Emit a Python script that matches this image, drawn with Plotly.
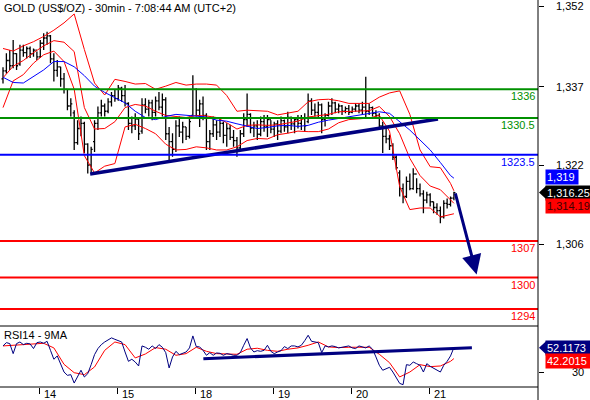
import plotly.graph_objects as go

# ---------------- data (hourly bars, index 0..133) ----------------
bar = list(range(134))
open_ = [1338.0, 1339.5, 1341.5, 1340.5, 1342.8, 1340.8, 1343.5, 1343.0, 1343.8, 1342.8,
         1343.5, 1342.2, 1344.8, 1345.8, 1346.2, 1341.8, 1339.6, 1340.3, 1338.0, 1336.0,
         1332.8, 1331.5, 1325.8, 1328.5, 1329.5, 1325.5, 1321.5, 1326.0, 1329.5, 1331.5,
         1332.8, 1331.8, 1333.6, 1334.8, 1334.2, 1336.2, 1334.8, 1333.3, 1329.5, 1329.0,
         1330.3, 1328.0, 1333.0, 1332.2, 1333.4, 1331.6, 1333.8, 1332.6, 1334.0, 1327.5,
         1326.0, 1324.5, 1329.0, 1327.8, 1328.8, 1327.0, 1331.0, 1336.0, 1332.0, 1333.2,
         1331.0, 1326.0, 1327.5, 1329.2, 1327.8, 1329.5, 1327.2, 1328.5, 1326.8, 1326.2,
         1324.8, 1327.5, 1330.2, 1331.2, 1328.6, 1329.0, 1327.4, 1329.8, 1328.8, 1330.2,
         1328.4, 1329.4, 1328.0, 1330.0, 1328.8, 1330.6, 1329.4, 1330.2, 1329.5, 1330.5,
         1329.8, 1333.8, 1332.0, 1331.6, 1333.0, 1330.2, 1331.0, 1332.8, 1333.4, 1332.2,
         1332.8, 1331.8, 1332.3, 1331.6, 1332.2, 1332.8, 1332.0, 1332.6, 1331.8, 1332.5,
         1331.4, 1331.0, 1329.0, 1327.0, 1326.5, 1325.2, 1323.0, 1320.0, 1317.0, 1315.5,
         1318.4, 1317.0, 1319.8, 1317.0, 1316.0, 1314.8, 1315.8, 1314.5, 1313.4, 1312.8,
         1311.6, 1314.2, 1314.0, 1315.2]
high = [1340.2, 1342.9, 1343.5, 1345.4, 1342.9, 1344.5, 1344.5, 1344.2, 1344.2, 1343.8,
        1343.2, 1345.4, 1346.7, 1347.0, 1346.4, 1342.9, 1341.6, 1340.3, 1339.1, 1335.9,
        1334.3, 1332.0, 1330.1, 1330.8, 1329.8, 1325.7, 1325.0, 1330.1, 1332.7, 1334.0,
        1333.3, 1334.3, 1335.5, 1335.9, 1336.8, 1336.5, 1336.8, 1333.5, 1330.8, 1331.4,
        1330.4, 1334.3, 1334.3, 1334.0, 1334.0, 1334.6, 1335.5, 1335.2, 1334.5, 1328.8,
        1327.6, 1330.1, 1330.8, 1329.8, 1328.8, 1330.8, 1338.7, 1336.2, 1334.0, 1334.6,
        1331.4, 1328.2, 1330.8, 1330.1, 1330.4, 1329.8, 1329.5, 1329.2, 1328.2, 1326.9,
        1328.2, 1331.4, 1335.2, 1331.4, 1329.8, 1330.1, 1330.8, 1331.1, 1331.1, 1330.1,
        1329.8, 1330.1, 1330.8, 1330.2, 1331.7, 1330.8, 1330.4, 1331.1, 1331.1, 1331.4,
        1335.2, 1334.3, 1333.3, 1333.6, 1333.3, 1331.4, 1333.6, 1334.3, 1333.6, 1333.3,
        1333.0, 1332.7, 1333.0, 1332.7, 1333.3, 1333.3, 1333.6, 1338.4, 1333.3, 1332.7,
        1332.0, 1331.4, 1329.8, 1328.9, 1327.3, 1325.7, 1323.4, 1320.5, 1318.0, 1319.3,
        1319.9, 1320.9, 1319.0, 1318.0, 1316.7, 1316.4, 1316.1, 1314.5, 1314.2, 1313.6,
        1314.8, 1315.1, 1315.5, 1316.4]
low = [1337.1, 1339.0, 1339.7, 1340.0, 1339.7, 1340.5, 1342.2, 1341.9, 1342.0, 1342.2,
       1341.6, 1342.0, 1343.5, 1344.5, 1341.0, 1337.5, 1338.4, 1336.5, 1335.2, 1332.0,
       1330.8, 1324.4, 1325.4, 1327.0, 1323.8, 1319.9, 1320.2, 1324.0, 1328.2, 1330.8,
       1330.8, 1331.4, 1332.7, 1333.6, 1333.8, 1333.6, 1332.7, 1328.2, 1327.6, 1328.2,
       1326.3, 1327.5, 1331.4, 1330.8, 1330.1, 1330.8, 1332.0, 1330.8, 1326.3, 1322.5,
       1323.1, 1324.0, 1326.9, 1325.7, 1326.3, 1326.6, 1330.8, 1330.8, 1328.8, 1330.1,
       1324.4, 1324.4, 1326.9, 1326.3, 1326.9, 1325.7, 1325.0, 1326.3, 1325.0, 1323.1,
       1324.4, 1326.9, 1328.8, 1327.6, 1326.9, 1326.3, 1327.0, 1327.9, 1326.9, 1327.6,
       1326.9, 1326.3, 1327.6, 1327.9, 1327.6, 1328.2, 1327.6, 1328.5, 1328.2, 1327.9,
       1329.5, 1331.1, 1330.8, 1330.4, 1327.6, 1328.9, 1330.8, 1331.1, 1331.4, 1331.4,
       1331.1, 1331.4, 1331.1, 1331.4, 1331.7, 1331.4, 1331.1, 1330.4, 1331.1, 1330.8,
       1330.4, 1328.2, 1323.8, 1325.7, 1324.4, 1322.5, 1320.6, 1315.5, 1314.2, 1315.2,
       1316.7, 1316.8, 1316.1, 1315.5, 1312.3, 1314.2, 1313.6, 1312.3, 1312.0, 1310.4,
       1311.3, 1313.2, 1313.6, 1314.8]
close = [1339.5, 1341.5, 1340.5, 1342.8, 1340.5, 1343.5, 1343.0, 1343.8, 1342.8, 1343.5,
         1342.2, 1344.8, 1345.8, 1346.2, 1341.8, 1339.6, 1340.3, 1338.0, 1336.0, 1332.8,
         1333.2, 1325.8, 1328.5, 1329.5, 1325.5, 1321.5, 1324.5, 1329.5, 1331.5, 1332.8,
         1331.8, 1333.6, 1334.8, 1334.2, 1336.2, 1334.8, 1333.3, 1329.5, 1329.0, 1330.3,
         1327.5, 1333.0, 1332.2, 1333.4, 1331.6, 1333.8, 1332.6, 1334.0, 1327.5, 1326.0,
         1324.5, 1329.0, 1327.8, 1328.8, 1327.0, 1329.8, 1336.0, 1332.0, 1333.2, 1331.0,
         1326.0, 1327.5, 1329.2, 1327.8, 1329.5, 1327.2, 1328.5, 1326.8, 1326.2, 1324.8,
         1327.5, 1330.2, 1331.2, 1328.6, 1329.0, 1327.4, 1329.8, 1328.8, 1330.2, 1328.4,
         1329.4, 1328.0, 1330.0, 1328.8, 1330.6, 1329.4, 1330.2, 1329.5, 1330.5, 1329.0,
         1333.8, 1332.0, 1331.6, 1333.0, 1330.2, 1331.0, 1332.8, 1333.4, 1332.2, 1332.8,
         1331.8, 1332.3, 1331.6, 1332.2, 1332.8, 1332.0, 1332.6, 1331.8, 1332.5, 1331.4,
         1331.0, 1329.0, 1327.0, 1326.5, 1325.2, 1323.0, 1321.0, 1317.0, 1315.5, 1318.4,
         1317.0, 1319.8, 1317.0, 1316.0, 1314.8, 1315.8, 1314.5, 1313.4, 1312.8, 1311.6,
         1314.2, 1314.0, 1315.2, 1316.25]

# indicator lines read every 3 bars
ind_bar = list(range(0, 133, 3)) + [133]
bb_upper = [1343.8, 1343.3, 1344.3, 1345.1, 1346.1, 1347.3, 1348.7, 1350.4, 1343.6, 1337.2,
            1334.9, 1337.9, 1337.5, 1337.0, 1337.1, 1336.0, 1336.6, 1337.3, 1336.8, 1337.0,
            1337.0, 1336.8, 1334.8, 1331.8, 1332.0, 1331.9, 1331.8, 1331.1, 1331.5, 1331.8,
            1333.6, 1334.0, 1334.1, 1333.8, 1333.3, 1333.3, 1333.3, 1334.5, 1335.3, 1335.7,
            1331.2, 1324.4, 1321.2, 1321.0, 1318.0, 1316.6]
bb_mid = [1338.2, 1340.4, 1341.5, 1343.0, 1344.3, 1345.3, 1345.0, 1343.2, 1332.5, 1328.4,
          1328.5, 1329.8, 1332.5, 1333.1, 1332.8, 1331.8, 1331.0, 1330.8, 1330.6, 1331.0,
          1330.9, 1330.6, 1329.6, 1328.4, 1329.1, 1329.2, 1329.1, 1329.2, 1329.5, 1329.9,
          1330.7, 1331.0, 1331.2, 1331.7, 1331.8, 1331.8, 1331.9, 1332.7, 1330.8, 1327.5,
          1322.8, 1319.5, 1317.5, 1316.8, 1314.8, 1314.2]
bb_lower = [1332.5, 1337.6, 1338.8, 1341.0, 1342.6, 1343.3, 1341.3, 1336.0, 1323.3, 1320.0,
            1321.3, 1321.8, 1328.8, 1329.3, 1328.5, 1327.5, 1325.5, 1324.4, 1324.5, 1325.0,
            1324.8, 1324.4, 1324.4, 1325.0, 1326.2, 1326.6, 1326.5, 1327.3, 1327.6, 1328.0,
            1327.9, 1327.9, 1328.4, 1329.6, 1330.2, 1330.3, 1330.5, 1331.0, 1328.0, 1317.4,
            1313.0, 1313.3, 1313.3, 1311.6, 1312.0, 1312.2]
ma_blue = [1338.3, 1337.3, 1337.2, 1338.4, 1339.7, 1341.3, 1341.3, 1340.3, 1338.6, 1336.6,
           1335.4, 1334.4, 1333.4, 1331.8, 1330.6, 1330.2, 1330.8, 1331.2, 1331.0, 1330.9,
           1330.7, 1330.1, 1329.9, 1329.4, 1329.0, 1328.5, 1328.7, 1329.0, 1329.1, 1328.9,
           1329.1, 1329.7, 1330.1, 1330.4, 1330.7, 1331.1, 1331.4, 1331.7, 1331.4, 1329.8,
           1328.2, 1326.3, 1324.4, 1322.0, 1319.5, 1319.0]

rsi = [53.7, 56.7, 55.8, 46.7, 55.8, 57.3, 54.9, 56.1, 55.5, 51.3,
       56.7, 57.3, 56.1, 57.9, 49.7, 41.6, 44.6, 36.7, 30.0, 27.0,
       27.6, 20.0, 26.4, 31.6, 25.5, 28.5, 36.7, 45.8, 51.3, 54.9,
       57.3, 58.8, 61.0, 59.7, 58.8, 57.3, 48.2, 39.7, 41.6, 39.1,
       35.5, 53.7, 52.5, 50.7, 53.7, 51.3, 54.9, 52.5, 47.6, 33.7,
       43.7, 48.8, 45.8, 46.7, 48.2, 51.9, 62.8, 53.1, 52.8, 49.7,
       45.2, 47.6, 45.2, 47.3, 47.0, 45.2, 46.7, 46.1, 45.2, 45.2,
       47.6, 54.3, 60.4, 51.9, 48.2, 49.4, 48.8, 49.7, 54.3, 48.8,
       46.7, 48.2, 49.4, 53.1, 51.3, 53.7, 53.7, 52.8, 54.3, 58.5,
       63.4, 57.9, 57.3, 56.7, 47.6, 53.7, 52.8, 53.7, 53.1, 51.9,
       52.5, 52.8, 53.7, 51.9, 51.3, 53.7, 52.5, 51.9, 53.7, 50.7,
       43.7, 36.1, 31.6, 33.1, 34.3, 30.0, 24.6, 19.7, 18.5, 36.7,
       36.1, 39.1, 37.6, 36.1, 30.0, 37.6, 35.2, 33.7, 31.6, 30.0,
       36.1, 39.7, 44.6, 52.1173]
rsi_ma = [53.7, 54.3, 54.6, 55.2, 56.1, 51.9, 37.0, 29.4, 27.6, 34.6,
          49.7, 57.3, 54.9, 42.8, 46.4, 52.2, 50.7, 45.2, 46.7, 52.5,
          48.8, 46.7, 46.4, 46.1, 50.7, 51.6, 49.7, 48.8, 50.7, 51.9,
          54.3, 57.3, 52.8, 52.2, 52.5, 52.8, 52.5, 46.1, 38.5, 25.5,
          30.0, 36.7, 34.9, 35.5, 39.7, 42.2015]

trend_bar = [25.7, 128.3]
trend_price = [1319.8, 1330.3]
arrow_bar = [133.3, 139.7]
arrow_price = [1316.4, 1300.6]
rsi_trend_bar = [59.1, 138.3]
rsi_trend_val = [42.1, 52.1]

green_levels = [1336, 1330.5]
blue_levels = [1323.5]
red_levels = [1307, 1300, 1294]

day_labels = ["14", "15", "18", "19", "20", "21"]
day_start_bar = [10.9, 33.9, 56.9, 79.9, 102.9, 125.9]
price_ticks = [1351.9, 1336.5, 1321.5, 1306.4]
price_tick_labels = ["1,352", "1,337", "1,322", "1,306"]
rsi_ticks = [30]
rsi_tick_labels = ["30"]

last_ma = 1319
last_close = 1316.25
last_mid = 1314.19
last_rsi = 52.1173
last_rsi_ma = 42.2015

title_text = "GOLD (US$/OZ) - 30min - 7:08:44 AM (UTC+2)"
rsi_title = "RSI14 - 9MA"

# ---------------- styling ----------------
FONT = "Liberation Sans, Arial, sans-serif"
NAVY = "#000080"
RED = "#ff0000"
BLUE = "#0000ff"
GREEN = "#009000"
W, H = 590, 400
ML, MR, MT, MB = 0, 52, 0, 13
plot_h = H - MT - MB
rsi_frac = 61 / plot_h

fig = go.Figure()
for yv in (bb_upper, bb_mid, bb_lower):
    fig.add_trace(go.Scatter(x=ind_bar, y=yv, mode="lines",
                             line=dict(color=RED, width=1), xaxis="x", yaxis="y"))
fig.add_trace(go.Scatter(x=ind_bar, y=ma_blue, mode="lines",
                         line=dict(color=BLUE, width=1), xaxis="x", yaxis="y"))
fig.add_trace(go.Ohlc(x=bar, open=open_, high=high, low=low, close=close,
                      increasing=dict(line=dict(color="black", width=1.3)),
                      decreasing=dict(line=dict(color="black", width=1.3)),
                      tickwidth=0.45, xaxis="x", yaxis="y"))
fig.add_trace(go.Scatter(x=trend_bar, y=trend_price, mode="lines",
                         line=dict(color=NAVY, width=3.5), xaxis="x", yaxis="y"))

fig.add_trace(go.Scatter(x=ind_bar, y=rsi_ma, mode="lines",
                         line=dict(color=RED, width=1), xaxis="x", yaxis="y2"))
fig.add_trace(go.Scatter(x=bar, y=rsi, mode="lines",
                         line=dict(color=NAVY, width=1), xaxis="x", yaxis="y2"))
fig.add_trace(go.Scatter(x=rsi_trend_bar, y=rsi_trend_val, mode="lines",
                         line=dict(color=NAVY, width=3), xaxis="x", yaxis="y2"))

shapes = []
annotations = []

def level(v, color):
    shapes.append(dict(type="line", xref="paper", x0=0, x1=1, yref="y", y0=v, y1=v,
                       line=dict(color=color, width=2), layer="above"))
    annotations.append(dict(xref="paper", x=1, xanchor="right", xshift=-1,
                            yref="y", y=v, yanchor="top", yshift=1,
                            text=f"{v:g}", showarrow=False,
                            font=dict(family=FONT, size=11, color=color)))

for v in green_levels:
    level(v, GREEN)
for v in blue_levels:
    level(v, BLUE)
for v in red_levels:
    level(v, RED)

# frame lines
shapes.append(dict(type="line", xref="paper", x0=1, x1=1, yref="paper", y0=-0.05, y1=1,
                   line=dict(color="black", width=1)))
shapes.append(dict(type="line", xref="paper", x0=0, x1=1, yref="paper",
                   y0=rsi_frac, y1=rsi_frac, line=dict(color="black", width=1)))
shapes.append(dict(type="line", xref="paper", x0=0, x1=1, yref="paper", y0=0, y1=0,
                   line=dict(color="black", width=1)))

# titles
annotations.append(dict(xref="paper", x=0, xanchor="left", xshift=2, yref="paper", y=1,
                        yanchor="top", yshift=0, text=title_text, showarrow=False,
                        font=dict(family=FONT, size=11, color="black")))
annotations.append(dict(xref="paper", x=0, xanchor="left", xshift=2, yref="paper",
                        y=rsi_frac, yanchor="top", yshift=-1, text=rsi_title,
                        showarrow=False, font=dict(family=FONT, size=11, color="black")))

# axis labels
for v, t in zip(price_ticks, price_tick_labels):
    annotations.append(dict(xref="paper", x=1, xanchor="right", xshift=48, yref="y", y=v,
                            yanchor="middle", text=t, showarrow=False,
                            font=dict(family=FONT, size=11, color="black")))
for v, t in zip(rsi_ticks, rsi_tick_labels):
    annotations.append(dict(xref="paper", x=1, xanchor="right", xshift=48, yref="y2", y=v,
                            yanchor="middle", text=t, showarrow=False,
                            font=dict(family=FONT, size=11, color="black")))
for v, t in zip(day_start_bar, day_labels):
    annotations.append(dict(xref="x", x=v, xanchor="left", xshift=2, yref="paper", y=0,
                            yanchor="middle", yshift=-7, text=t, showarrow=False,
                            font=dict(family=FONT, size=11, color="black")))

# value boxes on the right
def value_box(v, yref, text, bg, fg, shift_y=0, arrow=False, width=None):
    annotations.append(dict(xref="paper", x=1, xanchor="left", xshift=7, yref=yref, y=v,
                            yanchor="middle", yshift=shift_y, text=text, showarrow=False,
                            bgcolor=bg, borderpad=1, align="left",
                            width=width, height=12,
                            font=dict(family=FONT, size=11, color=fg)))
    if arrow:
        shapes.append(dict(type="path", xref="paper", xsizemode="pixel", xanchor=1,
                           yref=yref, ysizemode="pixel", yanchor=v,
                           path="M 1 0 L 8 6.5 L 8 -6.5 Z",
                           fillcolor=bg, line=dict(width=0)))

value_box(last_ma, "y", f"{last_ma:,}", BLUE, "white", shift_y=1, width=30)
value_box(last_close, "y", f"{last_close:,.2f}", "black", "white", arrow=True, width=48)
value_box(last_mid, "y", f"{last_mid:,.2f}", RED, "#400000", shift_y=-3, width=48)
value_box(last_rsi, "y2", f"{last_rsi:.4f}", NAVY, "white", arrow=True, width=48)
value_box(last_rsi_ma, "y2", f"{last_rsi_ma:.4f}", RED, "white", shift_y=-2, width=48)

# projection arrow
annotations.append(dict(xref="x", yref="y", x=arrow_bar[1], y=arrow_price[1],
                        axref="x", ayref="y", ax=arrow_bar[0], ay=arrow_price[0],
                        text="", showarrow=True, arrowhead=2, arrowsize=1.3,
                        arrowwidth=3, arrowcolor=NAVY, standoff=0))

fig.update_layout(
    width=W, height=H,
    margin=dict(l=ML, r=MR, t=MT, b=MB, pad=0),
    paper_bgcolor="white", plot_bgcolor="white",
    showlegend=False,
    xaxis=dict(domain=[0, 1], range=[-0.885, 157.8], anchor="y2",
               showgrid=False, zeroline=False, showline=False,
               ticks="outside", ticklen=6, tickcolor="black", tickwidth=1,
               tickvals=day_start_bar, showticklabels=False,
               rangeslider=dict(visible=False)),
    yaxis=dict(domain=[rsi_frac, 1], range=[1290.74, 1353.07], side="right", anchor="x",
               showgrid=False, zeroline=False, showline=False,
               ticks="outside", ticklen=5, tickcolor="black", tickwidth=1,
               tickvals=price_ticks, showticklabels=False),
    yaxis2=dict(domain=[0, rsi_frac], range=[16.4, 71.8], side="right", anchor="x",
                showgrid=False, zeroline=False, showline=False,
                ticks="outside", ticklen=5, tickcolor="black", tickwidth=1,
                tickvals=rsi_ticks, showticklabels=False),
    shapes=shapes,
    annotations=annotations,
)

fig.write_html("out.html",
               config={"displayModeBar": False},
               post_script="document.body.style.margin='0px';document.body.style.padding='0px';document.body.style.overflow='hidden';")
